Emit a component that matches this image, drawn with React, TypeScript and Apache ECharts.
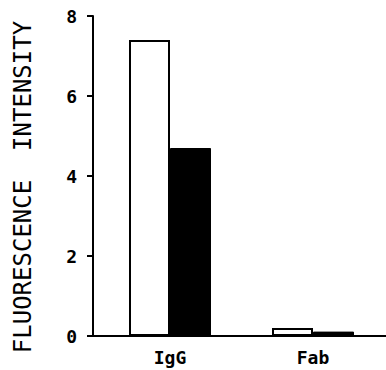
import React, { useEffect, useRef } from "react";
import * as echarts from "echarts";

const categories = ["IgG", "Fab"];
const whiteValues = [7.4, 0.2];
const blackValues = [4.7, 0.11];
const yTicks = [0, 2, 4, 6, 8];

export default function App() {
  const ref = useRef<HTMLDivElement>(null);
  useEffect(() => {
    if (!ref.current) return;
    const chart = echarts.init(ref.current, null, { renderer: "svg" });
    const positions = categories.map((_, i) => i + 1);
    chart.setOption({
      animation: false,
      backgroundColor: "#ffffff",
      grid: { left: 93, right: 0, top: 16, bottom: 34 },
      xAxis: {
        type: "value",
        min: 1 - 77 / 143,
        max: 2 + 73 / 143,
        axisLine: { show: true, lineStyle: { color: "#000", width: 2 } },
        axisTick: { show: false },
        splitLine: { show: false },
        axisLabel: {
          customValues: positions,
          formatter: (v: number) => categories[Math.round(v) - 1] ?? "",
          color: "#000",
          fontFamily: "DejaVu Sans Mono",
          fontWeight: "bold",
          fontSize: 18,
          margin: 12,
        },
      },
      yAxis: {
        type: "value",
        min: yTicks[0],
        max: yTicks[yTicks.length - 1],
        interval: 2,
        name: "FLUORESCENCE  INTENSITY",
        nameLocation: "middle",
        nameRotate: 90,
        nameGap: 58,
        nameTextStyle: {
          color: "#000",
          fontFamily: "DejaVu Sans Mono",
          fontSize: 24,
          padding: [0, 22, 0, 0],
        },
        axisLine: { show: true, lineStyle: { color: "#000", width: 2 } },
        axisTick: { show: true, length: 6, lineStyle: { color: "#000", width: 2 } },
        splitLine: { show: false },
        axisLabel: {
          color: "#000",
          fontFamily: "DejaVu Sans Mono",
          fontWeight: "bold",
          fontSize: 18,
          margin: 16,
        },
      },
      series: [
        {
          type: "bar",
          data: positions.map((p, i) => [p, whiteValues[i]]),
          barWidth: 41,
          barGap: "0%",
          itemStyle: { color: "#ffffff", borderColor: "#000", borderWidth: 2 },
        },
        {
          type: "bar",
          data: positions.map((p, i) => [p, blackValues[i]]),
          barWidth: 41,
          barGap: "0%",
          itemStyle: { color: "#000", borderColor: "#000", borderWidth: 1 },
        },
      ],
    });
    return () => chart.dispose();
  }, []);
  return (
    <div
      ref={ref}
      style={{ position: "fixed", left: 0, top: 0, width: 386, height: 370 }}
    />
  );
}
